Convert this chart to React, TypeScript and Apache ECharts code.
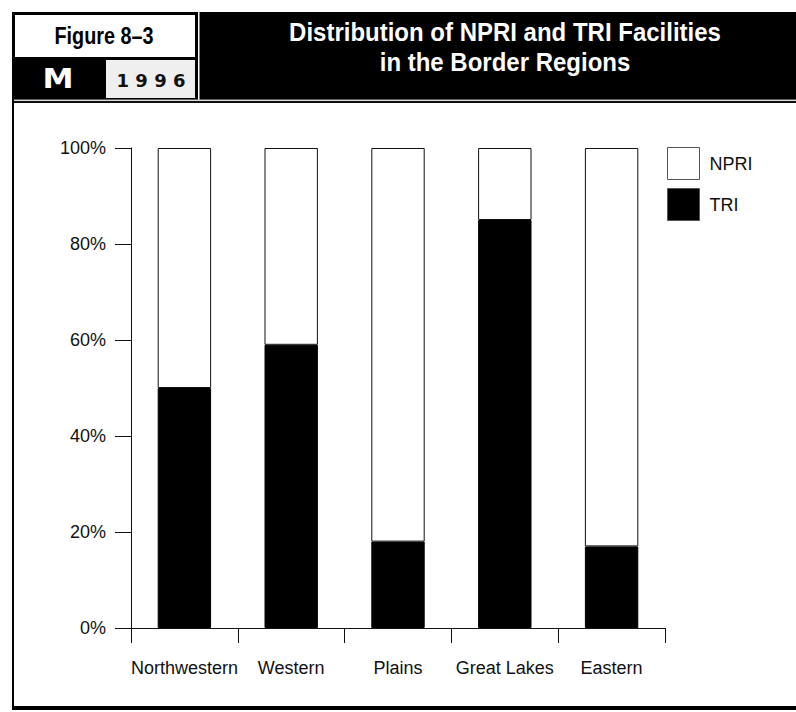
import React, { useEffect, useRef } from "react";
import * as echarts from "echarts";

const categories = ["Northwestern", "Western", "Plains", "Great Lakes", "Eastern"];
const triValues = [50, 59, 18, 85, 17];
const npriValues = triValues.map((v) => 100 - v);
const yTicks = [0, 20, 40, 60, 80, 100];

const NARROW = "'Liberation Sans Narrow', 'Arial Narrow', 'Liberation Sans', sans-serif";

export default function App() {
  const ref = useRef<HTMLDivElement>(null);
  useEffect(() => {
    if (!ref.current) return;
    const chart = echarts.init(ref.current, null, { renderer: "svg" });
    chart.setOption({
      animation: false,
      backgroundColor: "#ffffff",
      grid: { left: 131, right: 131, top: 148, bottom: 84 },
      legend: {
        orient: "vertical",
        left: 662,
        top: 142,
        itemWidth: 32,
        itemHeight: 32,
        itemGap: 8,
        icon: "rect",
        data: [
          { name: "NPRI", itemStyle: { color: "#ffffff", borderColor: "#555", borderWidth: 1 } },
          { name: "TRI", itemStyle: { color: "#000000", borderColor: "#555", borderWidth: 1 } },
        ],
        textStyle: { fontFamily: NARROW, fontSize: 18, color: "#111", padding: [0, 0, 0, 5] },
        selectedMode: false,
      },
      xAxis: {
        type: "category",
        data: categories,
        axisLine: { lineStyle: { color: "#111", width: 1 } },
        axisTick: { show: true, length: 15, lineStyle: { color: "#111" } },
        axisLabel: { fontFamily: NARROW, fontSize: 18, color: "#111", margin: 31, interval: 0 },
      },
      yAxis: {
        type: "value",
        min: 0,
        max: 100,
        interval: 20,
        axisLine: { show: true, lineStyle: { color: "#111", width: 1 } },
        axisTick: { show: true, inside: false, length: 16, lineStyle: { color: "#111" } },
        splitLine: { show: false },
        axisLabel: {
          fontFamily: NARROW,
          fontSize: 18,
          color: "#111",
          margin: 25,
          formatter: (v: number) => (yTicks.includes(v) ? v + "%" : ""),
        },
      },
      series: [
        {
          name: "TRI",
          type: "bar",
          stack: "s",
          barWidth: "50%",
          data: triValues,
          itemStyle: { color: "#000000", borderColor: "#000", borderWidth: 1 },
        },
        {
          name: "NPRI",
          type: "bar",
          stack: "s",
          barWidth: "50%",
          data: npriValues,
          itemStyle: { color: "#ffffff", borderColor: "#111", borderWidth: 1 },
        },
      ],
      graphic: [
        { type: "rect", shape: { x: 12, y: 12, width: 784, height: 88 }, style: { fill: "#000" } },
        { type: "rect", shape: { x: 15, y: 15, width: 180, height: 42 }, style: { fill: "#fff" } },
        { type: "rect", shape: { x: 106, y: 60, width: 89, height: 38 }, style: { fill: "#efefef" } },
        { type: "rect", shape: { x: 198, y: 12, width: 1.5, height: 88 }, style: { fill: "#fff" } },
        { type: "rect", shape: { x: 12, y: 99.5, width: 784, height: 1 }, style: { fill: "#bbb" } },
        { type: "rect", shape: { x: 12, y: 101, width: 784, height: 2 }, style: { fill: "#111" } },
        { type: "rect", shape: { x: 12, y: 12, width: 2, height: 698 }, style: { fill: "#000" } },
        { type: "rect", shape: { x: 12, y: 706, width: 784, height: 4 }, style: { fill: "#000" } },
        {
          type: "text",
          x: 104,
          y: 36,
          scaleX: 0.9,
          scaleY: 1.1,
          style: {
            text: "Figure 8–3",
            fill: "#000",
            font: "bold 22px " + NARROW,
            align: "center",
            verticalAlign: "middle",
          },
        },
        {
          type: "text",
          x: 58,
          y: 79,
          scaleX: 1.2,
          style: {
            text: "M",
            fill: "#fff",
            font: "bold 26px 'DejaVu Sans', sans-serif",
            align: "center",
            verticalAlign: "middle",
          },
        },
        {
          type: "text",
          x: 151,
          y: 80,
          style: {
            text: "1 9 9 6",
            fill: "#111",
            font: "bold 18px 'DejaVu Sans', sans-serif",
            align: "center",
            verticalAlign: "middle",
          },
        },
        {
          type: "text",
          x: 505,
          y: 32,
          scaleY: 1.1,
          style: {
            text: "Distribution of NPRI and TRI Facilities",
            fill: "#fff",
            font: "bold 24px " + NARROW,
            align: "center",
            verticalAlign: "middle",
          },
        },
        {
          type: "text",
          x: 505,
          y: 62,
          scaleY: 1.1,
          style: {
            text: "in the Border Regions",
            fill: "#fff",
            font: "bold 24px " + NARROW,
            align: "center",
            verticalAlign: "middle",
          },
        },
      ],
    });
    return () => chart.dispose();
  }, []);
  return (
    <div
      ref={ref}
      style={{ position: "fixed", left: 0, top: 0, width: 796, height: 712 }}
    />
  );
}
